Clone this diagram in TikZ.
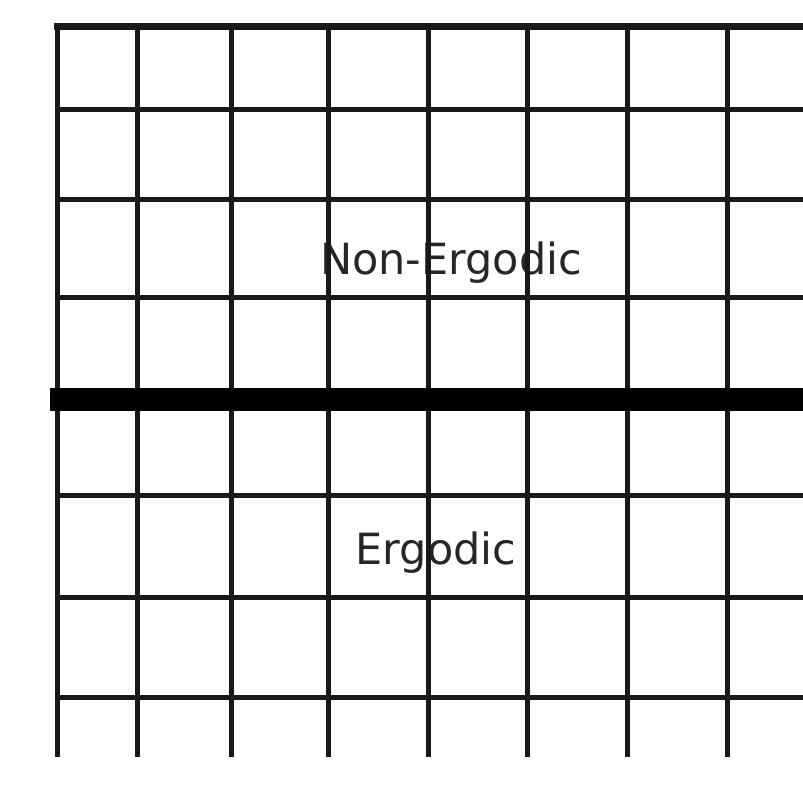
\documentclass[tikz,border=0pt]{standalone}
\usepackage{fontspec}
\setmainfont{DejaVu Sans}
\begin{document}
\begin{tikzpicture}[x=1pt,y=-1pt,
  gridline/.style={draw=black!90,line width=5pt},
  divider/.style={draw=black,line width=23pt},
  label/.style={font=\fontsize{43}{50}\selectfont,text=black!85,inner sep=0pt}]
\useasboundingbox (0,0) rectangle (803,786);
\node[label] (non) at (451,263) {Non-Ergodic};
\node[label] (erg) at (436,553) {Ergodic};
% vertical lines
\foreach \x in {57,137,231,328,428,527,627,727}
  \draw[gridline] (\x,27) -- (\x,757);
% horizontal lines
\foreach \y in {110,200,298,495,597,697}
  \draw[gridline] (57,\y) -- (803,\y);
\draw[gridline,line width=7pt] (54,27) -- (803,27);
\draw[divider] (50,399) -- (803,399);
\end{tikzpicture}
\end{document}
